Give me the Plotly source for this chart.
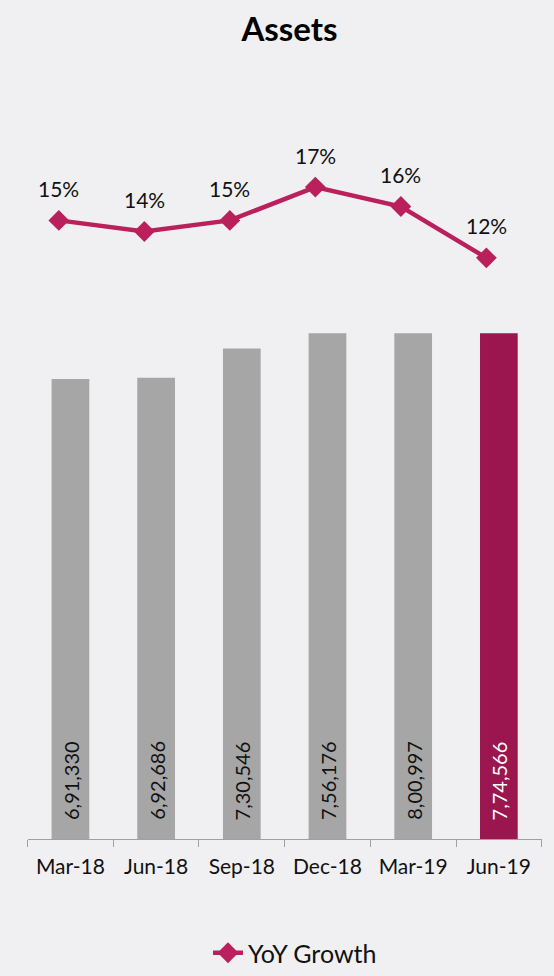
import plotly.graph_objects as go

# ---- data ----
categories = ["Mar-18", "Jun-18", "Sep-18", "Dec-18", "Mar-19", "Jun-19"]
assets = [691330, 692686, 730546, 756176, 800997, 774566]
yoy_growth = [15.0, 14.2, 15.0, 17.4, 16.0, 12.3]
asset_labels = ["6,91,330", "6,92,686", "7,30,546", "7,56,176", "8,00,997", "7,74,566"]

# ---- styles ----
W, H = 554, 976
BG = "#F0F0F2"
GREY = "#A6A6A6"
MAROON = "#9B164E"
LINE = "#BA215C"
FONT = "Lato, 'Open Sans', sans-serif"
AXIS_MIN, AXIS_MAX = 100000, 750000

bar_colors = [GREY] * (len(categories) - 1) + [MAROON]
text_colors = ["#111111"] * (len(categories) - 1) + ["#FFFFFF"]


def fx(px):
    return px / W


def fy(px):
    return 1 - px / H


fig = go.Figure()

fig.add_trace(go.Bar(
    x=categories,
    y=[v - AXIS_MIN for v in assets],
    base=AXIS_MIN,
    marker=dict(color=bar_colors, line=dict(width=0)),
    showlegend=False,
    hoverinfo="skip",
    xaxis="x", yaxis="y",
))

fig.add_trace(go.Scatter(
    x=categories,
    y=yoy_growth,
    mode="lines+markers",
    name="YoY Growth",
    line=dict(color=LINE, width=4.5),
    marker=dict(symbol="diamond", size=16, color=LINE),
    xaxis="x2", yaxis="y2",
))

annotations = []
for c, lab, col in zip(categories, asset_labels, text_colors):
    annotations.append(dict(
        x=c, y=AXIS_MIN, xref="x", yref="y",
        text=lab, textangle=-90, showarrow=False,
        xanchor="center", yanchor="bottom", yshift=17,
        font=dict(family=FONT, size=20, color=col),
    ))
for c, v in zip(categories, yoy_growth):
    annotations.append(dict(
        x=c, y=v, xref="x2", yref="y2",
        text=f"{v:.0f}%", showarrow=False,
        xanchor="center", yanchor="middle", yshift=32,
        font=dict(family=FONT, size=21, color="#111111"),
    ))

fig.update_layout(
    width=W, height=H,
    margin=dict(l=0, r=0, t=0, b=0),
    paper_bgcolor=BG, plot_bgcolor=BG,
    font=dict(family=FONT, color="#111111"),
    title=dict(text="<b>Assets</b>", x=fx(289.5), xanchor="center",
               y=fy(30), yanchor="middle", xref="paper", yref="paper",
               font=dict(family=FONT, size=33, color="#000000")),
    bargap=0.56,
    xaxis=dict(domain=[fx(27.6), fx(541.7)], type="category",
               showline=True, linecolor="#A0A0A0", linewidth=1.3,
               ticks="outside", tickson="boundaries", ticklen=7,
               tickcolor="#A0A0A0", tickwidth=1.3,
               tickfont=dict(family=FONT, size=21, color="#111111"),
               ticklabelstandoff=9, showgrid=False, zeroline=False,
               fixedrange=True),
    yaxis=dict(domain=[fy(846), fy(336)], range=[AXIS_MIN, AXIS_MAX],
               visible=False, showgrid=False, zeroline=False),
    xaxis2=dict(domain=[fx(23.95), fx(521.25)], type="category",
                anchor="y2", visible=False, showgrid=False),
    yaxis2=dict(domain=[fy(292.2), fy(152.2)], range=[10, 20],
                anchor="x2", visible=False, showgrid=False, zeroline=False),
    legend=dict(orientation="h", x=fx(295), xanchor="center",
                y=fy(961), yanchor="middle",
                font=dict(family=FONT, size=25, color="#111111"),
                bgcolor="rgba(0,0,0,0)"),
    annotations=annotations,
)

post = (
    "var d=document.documentElement,b=document.body;"
    "d.style.margin='0';d.style.padding='0';d.style.overflow='hidden';"
    "d.style.height='" + str(H) + "px';d.style.background='" + BG + "';"
    "b.style.margin='0';b.style.padding='0';b.style.overflow='hidden';"
    "b.style.height='" + str(H) + "px';b.style.background='" + BG + "';"
)

fig.write_html("out.html", config={"displayModeBar": False}, post_script=post)
